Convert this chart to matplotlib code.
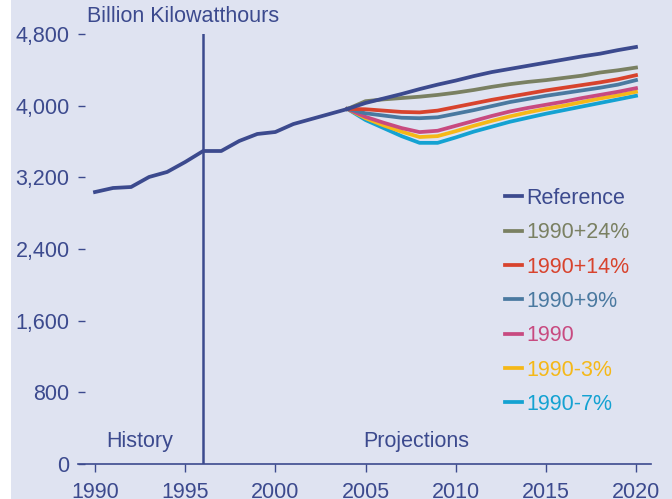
import matplotlib

matplotlib.use("Agg")

import matplotlib.pyplot as plt
from matplotlib.patches import Rectangle

plt.rcParams["font.family"] = ["Liberation Sans", "DejaVu Sans"]

hist_years = list(range(1990, 2005))
hist_values = [3036, 3081, 3092, 3204, 3260, 3371, 3494, 3494, 3606, 3684,
               3706, 3795, 3851, 3907, 3963]

proj_years = list(range(2004, 2021))
reference = [3963, 4030, 4080, 4130, 4185, 4235, 4280, 4330, 4375, 4410,
             4445, 4480, 4515, 4550, 4580, 4620, 4655]
plus24 = [3963, 4050, 4070, 4085, 4100, 4120, 4145, 4175, 4210, 4240,
          4265, 4285, 4310, 4335, 4370, 4395, 4425]
plus14 = [3963, 3960, 3945, 3930, 3925, 3945, 3985, 4025, 4065, 4100,
          4135, 4170, 4200, 4230, 4260, 4295, 4340]
plus9 = [3963, 3915, 3890, 3865, 3860, 3870, 3910, 3950, 3995, 4040,
         4075, 4110, 4140, 4170, 4200, 4235, 4285]
level1990 = [3963, 3875, 3810, 3750, 3705, 3720, 3775, 3830, 3885, 3935,
             3975, 4010, 4045, 4085, 4120, 4155, 4195]
minus3 = [3963, 3860, 3780, 3710, 3650, 3660, 3715, 3775, 3830, 3880,
          3925, 3965, 4000, 4040, 4080, 4115, 4155]
minus7 = [3963, 3840, 3750, 3660, 3585, 3585, 3645, 3710, 3765, 3820,
          3865, 3910, 3950, 3990, 4030, 4070, 4110]

labels = ["Reference", "1990+24%", "1990+14%", "1990+9%", "1990", "1990-3%", "1990-7%"]
colors = ["#3c4a8e", "#7a8062", "#d8432d", "#4a79a0", "#c84a80", "#f5b818", "#14a2d2"]
series = [reference, plus24, plus14, plus9, level1990, minus3, minus7]

ink = "#3c4a8e"
bg = "#dfe3f1"
fs = 15.5

fig = plt.figure(figsize=(6.72, 4.99), dpi=100, facecolor="white")
fig.patches.append(Rectangle((11 / 672, 0), 1, 1, transform=fig.transFigure,
                             facecolor=bg, edgecolor="none", zorder=-10))

ax = fig.add_axes([78 / 672, 1 - 464 / 499, (651 - 78) / 672, (464 - 34) / 499])
ax.set_facecolor(bg)

# draw the scenarios back to front so the reference ends on top
for label, color, vals in reversed(list(zip(labels, colors, series))):
    ax.plot(proj_years, vals, color=color, linewidth=2.7, label=label, zorder=3)
ax.plot(hist_years, hist_values, color=colors[0], linewidth=2.7, zorder=4)

ax.axvline(1996, color=ink, linewidth=1.8, zorder=5)

ax.set_xlim(1990 - 17 / 18.03, 2020 + 15 / 18.03)
ax.set_ylim(0, 4800)
ax.set_xticks(range(1990, 2021, 5))
ax.set_yticks(range(0, 4801, 800))
ax.set_yticklabels([f"{v:,}" for v in range(0, 4801, 800)])

for side in ["top", "right", "left"]:
    ax.spines[side].set_visible(False)
ax.spines["bottom"].set_color(ink)
ax.spines["bottom"].set_linewidth(1.2)

ax.tick_params(axis="x", direction="out", length=6, width=1, color=ink,
               labelcolor=ink, labelsize=fs, pad=7)
ax.tick_params(axis="y", direction="in", length=5, width=1, color=ink,
               labelcolor=ink, labelsize=fs, pad=6)

fig.text(87 / 672, 1 - 17 / 499, "Billion Kilowatthours",
         color=ink, fontsize=fs, ha="left", va="center")
ax.text(1992.5, 250, "History", color=ink, fontsize=fs, ha="center", va="center")
ax.text(2007.8, 250, "Projections", color=ink, fontsize=fs, ha="center", va="center")

handles, hlabels = ax.get_legend_handles_labels()
order = list(reversed(range(len(handles))))
leg = ax.legend([handles[i] for i in order], [hlabels[i] for i in order],
                loc="upper left", bbox_to_anchor=(0.73, 0.662), frameon=False,
                labelcolor="linecolor", fontsize=fs, handlelength=0.8,
                handletextpad=0.2, labelspacing=0.62, borderaxespad=0)

fig.savefig("out.png", dpi=100, facecolor=fig.get_facecolor())
